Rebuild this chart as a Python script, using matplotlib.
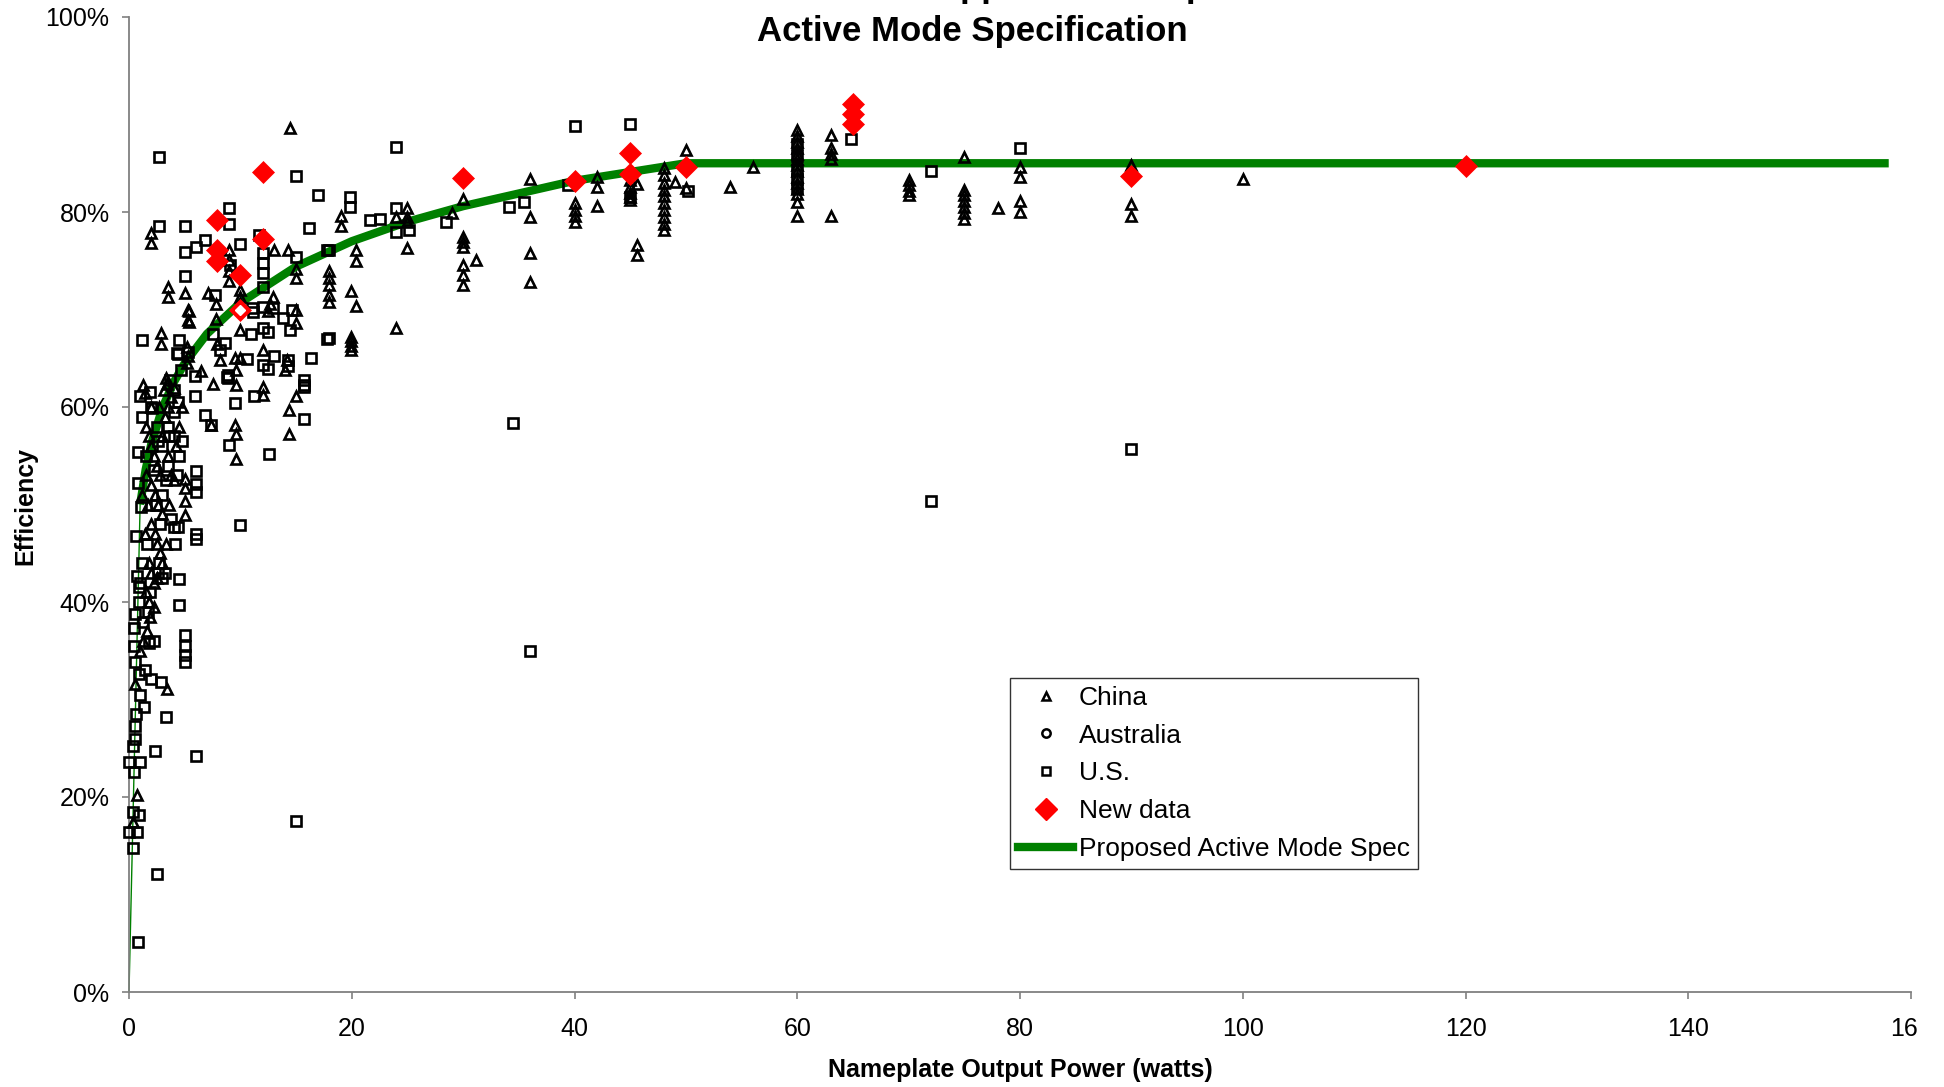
import matplotlib
matplotlib.use("Agg")
import matplotlib.pyplot as plt
from matplotlib.lines import Line2D
from matplotlib.transforms import Bbox

plt.rcParams['font.family'] = ['Liberation Sans', 'DejaVu Sans']

# ---------------- data ----------------
china_x = [2.0, 2.0, 3.5, 3.5, 5.0, 5.4, 5.4, 2.9, 2.9, 5.2, 5.3, 5.2, 1.3, 1.4, 2.0, 3.1, 3.4, 6.5, 7.5,
           1.5, 1.8, 2.0, 2.2, 2.5, 2.8, 3.0, 3.2, 3.5, 3.8, 4.0, 2.0, 2.3, 2.6, 3.0, 1.5, 1.7, 2.0, 2.3, 2.5,
           2.8, 1.8, 2.0, 2.2, 1.5, 1.8, 3.5, 3.8, 4.2, 4.5, 2.7, 3.3, 4.8, 1.2, 1.4, 2.5, 3.0, 3.3, 3.6, 4.0,
           1.9, 1.6, 2.2, 1.3, 1.0, 5.0, 5.0, 5.0, 5.0, 0.54, 3.4, 0.75, 0.33, 5.3, 5.3,
           7.1, 7.8, 7.8, 7.9, 8.2, 9.0, 9.0, 9.0, 9.0, 10.0, 10.0, 10.0, 10.0, 9.5, 10.0, 9.6, 9.6, 7.4, 9.5,
           9.6, 9.6,
           12.9, 12.7, 12.5, 13.0, 14.3, 15.0, 15.0, 15.0, 15.0, 12.0, 12.0, 12.0, 15.0, 14.4, 14.4, 14.5,
           14.2, 14.0, 18.0, 18.0, 18.0, 18.0, 18.0,
           19.0, 19.0, 20.4, 20.4, 19.9, 20.4, 19.9, 19.9, 19.9, 19.9, 25.0, 25.0, 25.0, 24.0, 25.0, 24.0,
           29.0, 30.0, 30.0, 30.0, 30.0, 30.0, 30.0, 30.0, 31.2, 36.0, 36.0, 36.0, 36.0,
           40.0, 40.0, 40.0, 40.0, 42.0, 42.0, 42.0, 45.0, 45.0, 45.0, 45.0, 45.0, 45.6, 45.6, 45.6,
           48.0, 48.0, 48.0, 48.0, 48.0, 48.0, 48.0, 48.0, 48.0, 48.0, 49.0, 50.0, 50.0,
           54.0, 56.0, 60.0, 60.0, 60.0, 60.0, 60.0, 60.0, 60.0, 60.0, 60.0, 60.0, 60.0, 60.0, 60.0, 60.0,
           63.0, 63.0, 63.0, 63.0, 63.0, 70.0, 70.0, 70.0, 70.0, 75.0, 75.0, 75.0, 75.0, 75.0, 75.0, 75.0,
           78.0, 80.0, 80.0, 80.0, 80.0, 90.0, 90.0, 90.0, 100.0]
china_y = [77.8, 76.8, 72.3, 71.3, 71.7, 69.8, 68.7, 67.6, 66.5, 66.2, 65.2, 64.5, 62.3, 61.4, 60.0, 61.7, 62.4, 63.7, 62.4,
           58.0, 57.0, 56.0, 55.0, 54.0, 53.0, 57.0, 59.0, 60.0, 61.0, 62.0, 52.0, 51.0, 50.0, 49.0, 53.0, 50.0, 48.0, 47.0, 46.0,
           45.0, 44.0, 43.0, 42.0, 41.0, 40.0, 55.0, 53.0, 56.0, 58.0, 60.0, 63.0, 60.0, 51.0, 47.0, 42.5, 44.0, 46.0, 50.0, 52.5,
           38.5, 37.0, 39.5, 36.0, 35.0, 52.6, 51.7, 50.4, 48.9, 31.6, 31.1, 20.2, 17.4, 69.9, 68.9,
           71.7, 70.6, 69.0, 66.5, 64.8, 76.1, 75.1, 73.9, 72.9, 72.0, 71.3, 70.7, 67.9, 65.0, 65.0, 63.8, 62.3, 58.2, 58.2,
           57.2, 54.7,
           71.3, 70.6, 69.8, 76.1, 76.1, 74.2, 73.2, 69.9, 68.6, 65.8, 62.1, 61.2, 61.1, 59.7, 57.2, 88.6,
           64.8, 63.8, 74.0, 73.2, 72.5, 71.5, 70.8,
           79.6, 78.6, 76.1, 75.0, 71.9, 70.4, 67.2, 66.8, 66.3, 65.8, 80.4, 79.5, 79.0, 79.5, 76.3, 68.1,
           79.9, 81.3, 77.4, 76.9, 76.4, 74.6, 73.5, 72.5, 75.1, 83.4, 79.5, 75.8, 72.8,
           80.9, 80.2, 79.6, 79.0, 83.6, 82.6, 80.6, 83.3, 82.6, 82.0, 81.5, 81.2, 82.9, 76.6, 75.6,
           84.5, 83.8, 83.0, 82.3, 81.6, 80.9, 80.2, 79.5, 78.8, 78.2, 83.1, 86.4, 82.5,
           82.6, 84.6, 88.4, 87.8, 87.2, 86.6, 86.0, 85.4, 84.8, 84.2, 83.6, 83.0, 82.4, 81.8, 81.0, 79.6,
           87.9, 86.6, 86.0, 85.4, 79.6, 83.3, 82.8, 82.2, 81.7, 85.6, 82.3, 81.7, 81.1, 80.5, 79.9, 79.3,
           80.4, 84.6, 83.6, 81.1, 80.0, 84.8, 80.8, 79.6, 83.4]

australia_x = []
australia_y = []

us_x = [2.67, 2.7, 5.0, 8.95, 8.95, 6.8, 6.0, 5.0, 10.0, 11.7, 12.0, 12.0, 12.0, 15.0, 17.8, 15.0, 17.0, 16.2,
        5.0, 7.7, 9.07, 12.0, 11.0, 12.0, 12.9, 14.6, 13.8, 14.5, 11.1, 12.0, 12.5, 10.96, 1.14, 4.46, 7.5,
        8.6, 8.2, 4.4, 5.3, 10.6, 13.0, 12.0, 12.5, 14.3, 14.3, 16.3, 17.8, 8.9, 8.9, 5.9, 15.7, 15.7, 15.7,
        9.5, 11.2, 1.0, 1.9, 15.7,
        4.3, 4.7, 3.7, 4.0, 2.1, 5.9, 6.8, 7.4, 0.84, 0.84, 1.05, 0.63, 4.0, 4.4, 4.1, 6.0, 6.0, 6.0, 6.0, 6.0,
        10.0, 12.6, 9.0, 8.8,
        4.46, 4.46, 5.0, 5.0, 5.0, 5.0, 0.69, 0.93, 0.54, 0.45, 0.45, 1.8, 0.54, 0.9, 2.0, 2.9, 1.0, 1.35,
        3.3, 0.6, 0.54, 0.54, 0.39, 2.3, 0.03, 1.0, 0.45, 6.0, 0.39, 0.9, 0.0, 0.7, 0.39, 15.0, 2.5, 0.84,
        1.2, 1.5, 2.0, 2.5, 3.0, 3.5, 4.0, 4.5, 4.3, 2.4, 2.8, 3.2, 1.2, 1.0, 1.6, 1.9, 2.6, 3.5, 4.0, 4.8,
        3.8, 1.3, 1.7, 2.2, 1.4, 3.0, 2.7, 0.9, 3.0, 3.3, 2.2, 4.4, 3.6, 2.6,
        19.8, 19.8, 21.6, 22.5, 24.0, 24.0, 24.0, 25.1, 28.5, 34.1, 35.5, 34.5, 36.0, 40.0, 39.4, 45.0,
        45.0, 50.2, 18.0, 18.0,
        60.0, 60.0, 60.0, 60.0, 60.0, 64.8, 72.0, 72.0, 80.0, 90.0]
us_y = [85.6, 78.6, 78.6, 80.4, 78.8, 77.1, 76.4, 75.9, 76.7, 77.6, 75.8, 74.8, 73.7, 75.4, 76.1, 83.7, 81.7, 78.4,
        73.4, 71.5, 74.6, 72.3, 70.2, 70.3, 70.2, 69.9, 69.1, 67.9, 69.7, 68.1, 67.7, 67.5, 66.9, 66.9, 67.5,
        66.6, 65.8, 65.4, 65.6, 64.9, 65.2, 64.3, 63.9, 64.8, 64.2, 65.0, 67.0, 63.3, 63.0, 63.2, 62.8, 62.3, 62.1,
        60.4, 61.1, 61.1, 61.5, 58.8,
        65.5, 63.8, 62.8, 61.7, 59.9, 61.1, 59.2, 58.2, 55.4, 52.2, 49.7, 46.8, 47.7, 47.7, 46.0, 53.4, 52.1, 51.3, 47.0, 46.5,
        47.9, 55.2, 56.1, 63.1,
        42.4, 39.7, 36.6, 35.5, 34.6, 33.8, 42.7, 41.5, 38.8, 37.3, 35.5, 35.8, 33.8, 32.6, 32.1, 31.8, 30.5, 29.2,
        28.2, 28.5, 27.3, 25.9, 25.2, 24.7, 23.6, 23.6, 22.6, 24.2, 18.5, 18.2, 16.4, 16.4, 14.8, 17.5, 12.1, 5.1,
        59.0, 55.0, 60.0, 58.0, 56.0, 54.0, 57.0, 55.0, 53.0, 50.0, 48.0, 43.0, 44.0, 42.0, 46.0, 41.0, 43.0, 58.0, 59.5, 56.5,
        48.5, 38.0, 39.0, 36.0, 33.0, 42.5, 44.0, 40.0, 51.0, 52.5, 53.5, 60.5, 57.0, 56.5,
        81.5, 80.5, 79.2, 79.3, 86.7, 80.4, 78.0, 78.2, 79.0, 80.5, 81.0, 58.4, 35.0, 88.8, 82.8, 89.0,
        81.5, 82.2, 67.1, 76.1,
        87.0, 85.7, 84.3, 83.4, 82.5, 87.5, 84.2, 50.4, 86.6, 55.7]

new_x = [7.9, 7.9, 7.9, 10.0, 10.0, 12.0, 12.0, 30.0, 40.0, 45.0, 45.0, 50.0, 65.0, 65.0, 65.0, 90.0, 120.0]
new_y = [79.2, 76.1, 75.0, 73.5, 69.9, 84.1, 77.2, 83.5, 83.2, 86.1, 83.9, 84.6, 91.1, 90.1, 89.0, 83.7, 84.7]

spec_thin_x = [0.0, 0.5, 1.0]
spec_thin_y = [0.0, 25.0, 50.0]
spec_x = [1.0, 1.5, 2.0, 3.0, 4.0, 5.0, 7.0, 10.0, 15.0, 20.0, 25.0, 30.0, 40.0, 50.0, 158.0]
spec_y = [50.0, 53.6, 56.2, 59.9, 62.5, 64.5, 67.5, 70.7, 74.4, 77.0, 79.0, 80.6, 83.2, 85.0, 85.0]

x_ticks = [0, 20, 40, 60, 80, 100, 120, 140, 160]
x_ticklabels = ["0", "20", "40", "60", "80", "100", "120", "140", "160"]
y_ticks = [0, 20, 40, 60, 80, 100]
y_ticklabels = ["0%", "20%", "40%", "60%", "80%", "100%"]

title_line1 = "External Power Supplies vs. Proposed"
title_line2 = "Active Mode Specification"
x_label = "Nameplate Output Power (watts)"
y_label = "Efficiency"

# ---------------- figure ----------------
W, H = 1944, 1087
fig = plt.figure(figsize=(W / 100, H / 100), dpi=100)
ax = fig.add_axes([129 / W, 1 - 992 / H, (1911 - 129) / W, (992 - 17) / H])

GREEN = '#008000'
ax.plot(spec_thin_x, spec_thin_y, color=GREEN, lw=1.0, zorder=2, clip_on=False)
ax.plot(spec_x, spec_y, color=GREEN, lw=6, zorder=2, solid_capstyle='butt')

ax.plot(china_x, china_y, linestyle='none', marker='^', ms=6.8, mfc='none', mec='black', mew=1.9,
        zorder=3, clip_on=False)
ax.plot(australia_x, australia_y, linestyle='none', marker='o', ms=6, mfc='none', mec='black', mew=1.9,
        zorder=3, clip_on=False)
ax.plot(us_x, us_y, linestyle='none', marker='s', ms=6.5, mfc='none', mec='black', mew=1.9,
        zorder=3, clip_on=False)
ax.plot(new_x, new_y, linestyle='none', marker='D', ms=11, mfc='red', mec='red', mew=0.5, zorder=4)
# the one highlighted point with a white centre
ax.plot(new_x[4], new_y[4], linestyle='none', marker='D', ms=5, mfc='white', mec='white', zorder=5)

ax.set_xlim(0, 160)
ax.set_ylim(0, 100)
ax.set_xticks(x_ticks, x_ticklabels)
ax.set_yticks(y_ticks, y_ticklabels)

for s in ['top', 'right']:
    ax.spines[s].set_visible(False)
for s in ['left', 'bottom']:
    ax.spines[s].set_color('#808080')
    ax.spines[s].set_linewidth(1.3)

ax.tick_params(axis='both', direction='out', length=5, width=1.2, color='#808080', labelsize=18,
               labelcolor='black')
ax.tick_params(axis='x', pad=13)
ax.tick_params(axis='y', pad=9)

# last x tick label is cut at the picture border in the reference
last = ax.xaxis.get_major_ticks()[-1].label1
last.set_clip_box(Bbox.from_extents(0, 0, 1918, H))
last.set_clip_on(True)

ax.set_xlabel(x_label, fontsize=18, fontweight='bold', va='center')
ax.xaxis.set_label_coords(0.5, (992 - 1070) / 975)
ax.set_ylabel(y_label, fontsize=18, fontweight='bold', va='center', ha='center')
ax.yaxis.set_label_coords((25 - 129) / 1782, (992 - 506) / 975)

fig.text(0.5, 1 + 3 / H, title_line1, ha='center', va='baseline', fontsize=25, fontweight='bold')
fig.text(0.5, 1 - 41 / H, title_line2, ha='center', va='baseline', fontsize=25, fontweight='bold')

handles = [
    Line2D([], [], linestyle='none', marker='^', ms=6, mfc='none', mec='black', mew=1.8),
    Line2D([], [], linestyle='none', marker='o', ms=6, mfc='none', mec='black', mew=1.8),
    Line2D([], [], linestyle='none', marker='s', ms=5.5, mfc='none', mec='black', mew=1.8),
    Line2D([], [], linestyle='none', marker='D', ms=11, mfc='red', mec='red'),
    Line2D([], [], color=GREEN, lw=6),
]
labels = ["China", "Australia", "U.S.", "New data", "Proposed Active Mode Spec"]
leg = ax.legend(handles, labels, loc='upper left', bbox_to_anchor=((1010 - 129) / 1782, (992 - 678) / 975),
                borderaxespad=0, fontsize=19, frameon=True, fancybox=False, edgecolor='black',
                handlelength=2.1, handletextpad=0.2, labelspacing=0.52, borderpad=0.3)
leg.get_frame().set_linewidth(1.0)

fig.savefig("out.png", dpi=100)
